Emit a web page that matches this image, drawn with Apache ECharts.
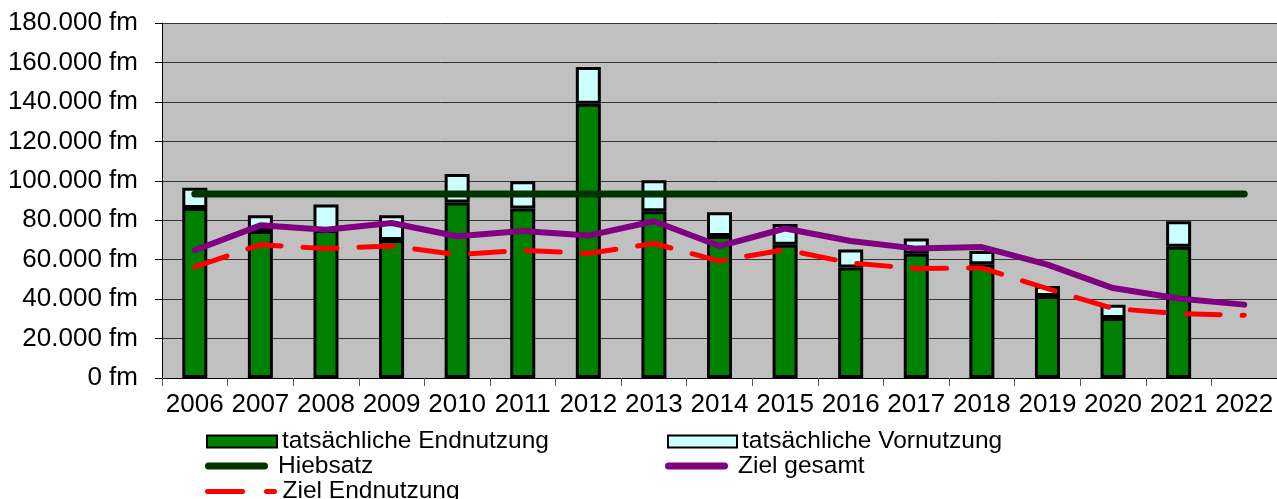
<!DOCTYPE html>
<html>
<head>
<meta charset="utf-8">
<script src="https://cdn.jsdelivr.net/npm/echarts@6/dist/echarts.min.js"></script>
<style>
html,body{margin:0;padding:0;background:#fff;}
#c{width:1277px;height:499px;}
</style>
</head>
<body>
<div id="c"></div>
<script>
const years = ['2006','2007','2008','2009','2010','2011','2012','2013','2014','2015','2016','2017','2018','2019','2020','2021','2022'];
const endnutzung = [86200, 74500, 75000, 70000, 89000, 86000, 139000, 84500, 72000, 67600, 56000, 63000, 57700, 41600, 30400, 66600, null];
const vornutzung = [10300, 8000, 13000, 12500, 14400, 13700, 18700, 15800, 12000, 10500, 9100, 7700, 6700, 5100, 6800, 12900, null];
const hiebsatz = [93300, 93300, 93300, 93300, 93300, 93300, 93300, 93300, 93300, 93300, 93300, 93300, 93300, 93300, 93300, 93300, 93300];
const zielGesamt = [64800, 77400, 75200, 78600, 71900, 74500, 72200, 79500, 66900, 75800, 69500, 65600, 66400, 57500, 45600, 40300, 37200];
const zielEndnutzung = [56300, 67600, 65600, 66900, 62600, 64800, 63100, 68200, 59300, 65100, 58300, 55500, 55800, 45300, 35200, 32700, 31800];
const yTicks = {min: 0, max: 180000, interval: 20000};

const FONT = '"Liberation Sans", Arial, sans-serif';
function fmt(v){
  if (v === 0) return '0 fm';
  return (v/1000) + '.000 fm';
}

const LEG_TEXT = {fontFamily: FONT, fontSize: 24.5, lineHeight: 20, color: '#000'};
const capsule = 'path://M4,0 H68 A4,4 0 0 1 68,8 H4 A4,4 0 0 1 4,0 Z';
const dashDot = 'path://M2.5,0 H37.5 A2.5,2.5 0 0 1 37.5,5 H2.5 A2.5,2.5 0 0 1 2.5,0 Z M61.5,0 H69.5 A2.5,2.5 0 0 1 69.5,5 H61.5 A2.5,2.5 0 0 1 61.5,0 Z';

function leg(name, left, centerY, opts){
  return Object.assign({
    left: left, top: centerY - 10, padding: 0, itemGap: 0,
    textStyle: LEG_TEXT,
    data: [name]
  }, opts);
}

const chart = echarts.init(document.getElementById('c'), null, {renderer:'canvas'});
chart.setOption({
  animation: false,
  backgroundColor: '#ffffff',
  textStyle: {fontFamily: FONT, color: '#000'},
  grid: {left: 162, top: 23, right: -3, bottom: 121, show: true, backgroundColor: '#C0C0C0', borderWidth: 0},
  legend: [
    leg('tatsächliche Endnutzung', 206, 439, {icon: 'rect', itemWidth: 70, itemHeight: 12}),
    leg('Hiebsatz', 205, 463.5, {icon: capsule, itemWidth: 73, itemHeight: 7}),
    leg('Ziel Endnutzung', 205, 489, {icon: dashDot, itemWidth: 73, itemHeight: 5}),
    leg('tatsächliche Vornutzung', 667, 439, {icon: 'rect', itemWidth: 69, itemHeight: 12}),
    leg('Ziel gesamt', 665, 463.5, {icon: capsule, itemWidth: 73, itemHeight: 7})
  ],
  xAxis: {
    type: 'category',
    data: years,
    boundaryGap: true,
    axisLine: {show: true, lineStyle: {color: '#000', width: 1}},
    axisTick: {show: true, length: 8, lineStyle: {color: '#555', width: 1}},
    axisLabel: {fontFamily: FONT, fontSize: 26, color: '#000', margin: 14, interval: 0},
    splitLine: {show: false}
  },
  yAxis: {
    type: 'value',
    min: yTicks.min, max: yTicks.max, interval: yTicks.interval,
    axisLine: {show: true, lineStyle: {color: '#000', width: 1}},
    axisTick: {show: true, length: 7, lineStyle: {color: '#000', width: 1}},
    axisLabel: {fontFamily: FONT, fontSize: 26, color: '#000', margin: 24, formatter: fmt},
    splitLine: {show: true, lineStyle: {color: '#333', width: 1}}
  },
  series: [
    {
      name: 'tatsächliche Endnutzung', type: 'bar', stack: 'ist', data: endnutzung,
      barWidth: 25, z: 2,
      itemStyle: {color: '#008000', borderColor: '#000', borderWidth: 3}
    },
    {
      name: 'tatsächliche Vornutzung', type: 'bar', stack: 'ist', data: vornutzung,
      barWidth: 25, z: 2,
      itemStyle: {color: '#CCFFFF', borderColor: '#000', borderWidth: 3}
    },
    {
      name: 'Hiebsatz', type: 'line', data: hiebsatz, symbol: 'none', z: 3,
      lineStyle: {color: '#003300', width: 7, cap: 'round', join: 'round'},
      itemStyle: {color: '#003300'}
    },
    {
      name: 'Ziel gesamt', type: 'line', data: zielGesamt, symbol: 'none', z: 4,
      lineStyle: {color: '#800080', width: 6, cap: 'round', join: 'round'},
      itemStyle: {color: '#800080'}
    },
    {
      name: 'Ziel Endnutzung', type: 'line', data: zielEndnutzung, symbol: 'none', z: 5,
      lineStyle: {color: '#FF0000', width: 5, type: [34, 22], cap: 'round', join: 'round'},
      itemStyle: {color: '#FF0000'}
    }
  ]
});
</script>
</body>
</html>
